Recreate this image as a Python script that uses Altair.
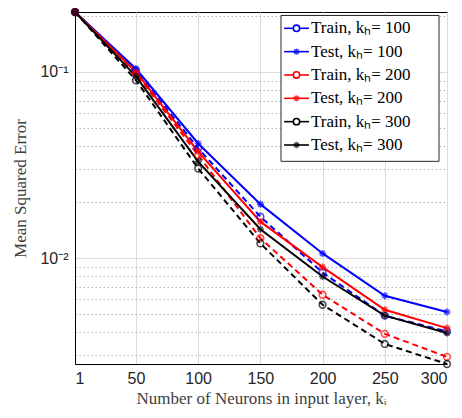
import altair as alt
import pandas as pd

x_vals = [1, 50, 100, 150, 200, 250, 300]
train_100 = [0.21, 0.102, 0.0389, 0.0167, 0.00837, 0.00491, 0.00404]
test_100 = [0.21, 0.104, 0.0413, 0.0195, 0.0106, 0.00628, 0.00514]
train_200 = [0.21, 0.098, 0.0358, 0.0128, 0.00636, 0.00392, 0.00295]
test_200 = [0.21, 0.100, 0.0373, 0.0157, 0.00895, 0.00528, 0.00421]
train_300 = [0.21, 0.0903, 0.0303, 0.0120, 0.00562, 0.00346, 0.0027]
test_300 = [0.21, 0.0948, 0.0330, 0.0143, 0.00797, 0.00491, 0.00396]

series_names = ["Train, kₕ= 100", "Test, kₕ= 100", "Train, kₕ= 200",
                "Test, kₕ= 200", "Train, kₕ= 300", "Test, kₕ= 300"]
kinds = ["Train", "Test", "Train", "Test", "Train", "Test"]
colors = ["#0000ff", "#0000ff", "#ff0000", "#ff0000", "#000000", "#000000"]
all_vals = [train_100, test_100, train_200, test_200, train_300, test_300]

y_ticks = [0.003, 0.004, 0.005, 0.006, 0.007, 0.008, 0.009, 0.01,
           0.02, 0.03, 0.04, 0.05, 0.06, 0.07, 0.08, 0.09, 0.1, 0.2]

rows = []
for name, kind, vals in zip(series_names, kinds, all_vals):
    for xv, v in zip(x_vals, vals):
        rows.append({"x": xv, "mse": v, "series": name, "kind": kind})
df = pd.DataFrame(rows)

asterisk = "M0,-1V1M-1,0H1M-0.7,-0.7L0.7,0.7M-0.7,0.7L0.7,-0.7"
major = "datum.value == 0.1 || datum.value == 0.01"

x_enc = alt.X("x:Q", scale=alt.Scale(domain=[1, 300], nice=False),
              axis=alt.Axis(values=x_vals, title="Number of Neurons in input layer, kᵢ",
                            grid=True, gridColor="#dcdcdc", ticks=False,
                            labelFont="Liberation Sans", labelFontSize=16,
                            labelColor="#262626", labelPadding=6,
                            titleFont="Liberation Serif", titleFontSize=17,
                            titleFontWeight="normal", titleColor="#404040",
                            titlePadding=4, domainColor="black"))
y_enc = alt.Y("mse:Q", scale=alt.Scale(type="log", domain=[0.0027, 0.21], nice=False),
              axis=alt.Axis(values=y_ticks, title="Mean Squared Error",
                            labelExpr="datum.value == 0.1 ? '10⁻¹' : (datum.value == 0.01 ? '10⁻²' : '')",
                            grid=True,
                            gridColor=alt.condition(major, alt.value("#dcdcdc"), alt.value("#b0b0b0")),
                            gridDash=alt.condition(major, alt.value([]), alt.value([1.5, 2.5])),
                            ticks=False, labelFont="Liberation Sans", labelFontSize=16,
                            labelColor="#262626", labelPadding=7,
                            titleFont="Liberation Serif", titleFontSize=17,
                            titleFontWeight="normal", titleColor="#404040",
                            titlePadding=10, domainColor="black"))

color_scale = alt.Scale(domain=series_names, range=colors)
color_enc = alt.Color("series:N", scale=color_scale, legend=None)

base = alt.Chart(df)
train_lines = base.transform_filter("datum.kind == 'Train'").mark_line(
    strokeDash=[6, 4], strokeWidth=2).encode(x=x_enc, y=y_enc, color=color_enc)
test_lines = base.transform_filter("datum.kind == 'Test'").mark_line(
    strokeWidth=2).encode(x=x_enc, y=y_enc, color=color_enc)
train_pts = base.transform_filter("datum.kind == 'Train'").mark_point(
    shape="circle", filled=False, size=45, strokeWidth=1.6).encode(
    x=x_enc, y=y_enc, color=color_enc)
test_pts = base.transform_filter("datum.kind == 'Test'").mark_point(
    shape=asterisk, filled=False, size=50, strokeWidth=1.6).encode(
    x=x_enc, y=y_enc, color=color_enc)
data_group = alt.layer(train_lines, test_lines, train_pts, test_pts)

# ---- legend drawn as marks, in legend units (x: 0..1 across box, y: row index)
leg_df = pd.DataFrame({"series": series_names, "kind": kinds,
                       "row": list(range(len(series_names)))})
box_df = pd.DataFrame({"a": [0.0], "b": [1.0], "top": [-0.55], "bottom": [5.7]})
lx = alt.Scale(domain=[0, 1], range=[206, 364])
ly = alt.Scale(domain=[0, 5], range=[16.3, 133])

box = alt.Chart(box_df).mark_rect(fill="white", stroke="#262626", strokeWidth=1).encode(
    x=alt.X("a:Q", scale=lx, axis=None), x2="b:Q",
    y=alt.Y("top:Q", scale=ly, axis=None), y2="bottom:Q")
leg_base = alt.Chart(leg_df).transform_calculate(s0="0.02", s1="0.177", m="0.098", t="0.19")
leg_lines = leg_base.mark_rule(strokeWidth=1.6).encode(
    x=alt.X("s0:Q", scale=lx, axis=None), x2="s1:Q",
    y=alt.Y("row:Q", scale=ly, axis=None), color=color_enc)
leg_circ = leg_base.transform_filter("datum.kind == 'Train'").mark_point(
    shape="circle", filled=False, size=40, strokeWidth=1.6, fill="white", opacity=1).encode(
    x=alt.X("m:Q", scale=lx, axis=None), y=alt.Y("row:Q", scale=ly, axis=None),
    color=color_enc)
leg_star = leg_base.transform_filter("datum.kind == 'Test'").mark_point(
    shape=asterisk, filled=False, size=40, strokeWidth=1.6).encode(
    x=alt.X("m:Q", scale=lx, axis=None), y=alt.Y("row:Q", scale=ly, axis=None),
    color=color_enc)
leg_text = leg_base.mark_text(align="left", baseline="middle", font="Liberation Serif",
                              fontSize=17, color="black").encode(
    x=alt.X("t:Q", scale=lx, axis=None), y=alt.Y("row:Q", scale=ly, axis=None),
    text="series:N")
legend_group = alt.layer(box, leg_lines, leg_circ, leg_star, leg_text)

chart = alt.layer(data_group, legend_group).resolve_scale(
    x="independent", y="independent").properties(
    width=372, height=352,
    autosize=alt.AutoSizeParams(type="none"),
    padding={"left": 67, "top": 4, "right": 7, "bottom": 44},
).configure_view(stroke="black", strokeWidth=1)

chart.save("out.html", embed_options={"renderer": "svg", "actions": False})
